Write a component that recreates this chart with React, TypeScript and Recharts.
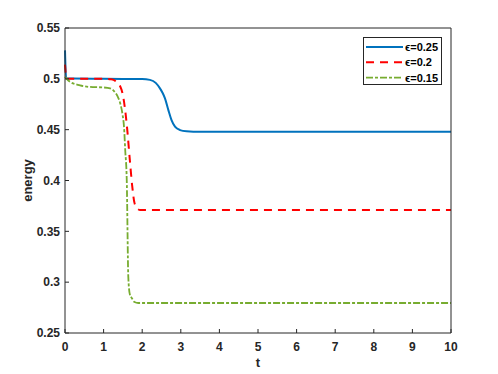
import React from 'react';
import { LineChart, Line, XAxis, YAxis, Legend } from 'recharts';

// ϵ = 0.25
const blueT = [0, 0.03, 1, 2, 2.2, 2.35, 2.46, 2.53, 2.59, 2.68, 2.76, 2.85, 2.98, 3.15, 3.5, 10];
const blueE = [0.528, 0.5005, 0.5, 0.4999, 0.499, 0.496, 0.4906, 0.486, 0.4808, 0.469, 0.4594, 0.4529, 0.4496, 0.4485, 0.448, 0.448];

// ϵ = 0.2
const redT = [0, 0.04, 1, 1.2, 1.32, 1.42, 1.51, 1.6, 1.68, 1.74, 1.8, 1.87, 1.95, 10];
const redE = [0.514, 0.5, 0.5, 0.4995, 0.4975, 0.4935, 0.482, 0.455, 0.42, 0.395, 0.378, 0.3725, 0.371, 0.371];

// ϵ = 0.15
const greenT = [0, 0.13, 0.39, 0.65, 1.0, 1.17, 1.27, 1.36, 1.43, 1.49, 1.53, 1.56, 1.6, 1.64, 1.68, 1.73, 1.8, 1.9, 10];
const greenE = [0.502, 0.497, 0.4936, 0.492, 0.4915, 0.4906, 0.488, 0.483, 0.476, 0.465, 0.452, 0.43, 0.4, 0.305, 0.288, 0.2844, 0.2805, 0.2795, 0.2795];

const seriesNames = ['ϵ=0.25', 'ϵ=0.2', 'ϵ=0.15'];
const seriesColors = ['#0072BD', '#FF0000', '#77AC30'];
const seriesDash = ['', '8 6', '7 2 3 2'];
const seriesWidth = [2, 2, 1.8];

const xTicks = [0, 1, 2, 3, 4, 5, 6, 7, 8, 9, 10];
const yTicks = [0.25, 0.3, 0.35, 0.4, 0.45, 0.5, 0.55];

const toRows = (ts: number[], es: number[]) => ts.map((t, i) => ({ t, e: es[i] }));
const seriesData = [toRows(blueT, blueE), toRows(redT, redE), toRows(greenT, greenE)];

const AXIS = '#262626';
const FONT = '"Liberation Sans", Arial, Helvetica, sans-serif';
const tickStyle = { fill: AXIS, fontSize: 12, fontWeight: 700, fontFamily: FONT };
const TL = 4; // inward tick length
const XM = 9; // bottom label gap
const YM = 5; // left label gap

const BottomTick = (p: any) => (
  <g>
    <line x1={p.x} x2={p.x} y1={p.y - XM} y2={p.y - XM - TL} stroke={AXIS} strokeWidth={1} />
    <text x={p.x} y={p.y} dy="0.71em" textAnchor="middle" {...tickStyle}>
      {p.payload.value}
    </text>
  </g>
);
const TopTick = (p: any) => (
  <line x1={p.x} x2={p.x} y1={p.y} y2={p.y + TL} stroke={AXIS} strokeWidth={1} />
);
const LeftTick = (p: any) => (
  <g>
    <line x1={p.x + YM} x2={p.x + YM + TL} y1={p.y} y2={p.y} stroke={AXIS} strokeWidth={1} />
    <text x={p.x} y={p.y} dy="0.355em" textAnchor="end" {...tickStyle}>
      {String(p.payload.value)}
    </text>
  </g>
);
const RightTick = (p: any) => (
  <line x1={p.x} x2={p.x - TL} y1={p.y} y2={p.y} stroke={AXIS} strokeWidth={1} />
);

const LegendBox = () => (
  <div
    style={{
      width: 79,
      height: 48,
      border: `1px solid ${AXIS}`,
      background: '#fff',
      boxSizing: 'border-box',
    }}
  >
    <svg width={77} height={46}>
      {seriesNames.map((n, i) => {
        const y = 9 + i * 15.3;
        return (
          <g key={n}>
            <line x1={2} x2={39} y1={y} y2={y} stroke={seriesColors[i]} strokeWidth={seriesWidth[i]} strokeDasharray={seriesDash[i]} />
            <text x={41} y={y + 4} fontSize={11} fontWeight={700} fontFamily={FONT} fill="#000">
              {n}
            </text>
          </g>
        );
      })}
    </svg>
  </div>
);

export default function App() {
  return (
    <div style={{ position: 'absolute', left: 0, top: 0, width: 498, height: 374, background: '#fff' }}>
      <LineChart width={498} height={374} margin={{ top: 27, right: 46, bottom: 6, left: 25 }}>
        <XAxis
          dataKey="t"
          type="number"
          domain={[0, 10]}
          ticks={xTicks}
          interval={0}
          height={35}
          stroke={AXIS}
          tickLine={false}
          tickSize={0}
          tickMargin={XM}
          tick={<BottomTick />}
          label={{ value: 't', position: 'insideBottom', offset: 1, style: { ...tickStyle, fontSize: 13, textAnchor: 'middle' } }}
        />
        <XAxis
          xAxisId="top"
          orientation="top"
          type="number"
          domain={[0, 10]}
          ticks={xTicks}
          interval={0}
          height={1}
          stroke={AXIS}
          tickLine={false}
          tickSize={0}
          tickMargin={0}
          tick={<TopTick />}
        />
        <YAxis
          type="number"
          domain={[0.25, 0.55]}
          ticks={yTicks}
          interval={0}
          width={40}
          stroke={AXIS}
          tickLine={false}
          tickSize={0}
          tickMargin={YM}
          tick={<LeftTick />}
          label={{ value: 'energy', angle: -90, position: 'insideLeft', offset: 2, style: { ...tickStyle, fontSize: 13, textAnchor: 'middle' } }}
        />
        <YAxis
          yAxisId="right"
          orientation="right"
          type="number"
          domain={[0.25, 0.55]}
          ticks={yTicks}
          interval={0}
          width={1}
          stroke={AXIS}
          tickLine={false}
          tickSize={0}
          tickMargin={0}
          tick={<RightTick />}
        />
        {seriesData.map((d, i) => (
          <Line
            key={seriesNames[i]}
            data={d}
            dataKey="e"
            name={seriesNames[i]}
            type="monotone"
            stroke={seriesColors[i]}
            strokeWidth={seriesWidth[i]}
            strokeDasharray={seriesDash[i] || undefined}
            dot={false}
            activeDot={false}
            isAnimationActive={false}
          />
        ))}
        <Legend
          layout="horizontal"
          verticalAlign="middle"
          align="center"
          content={() => <LegendBox />}
          wrapperStyle={{ position: 'absolute', left: 363, top: 37, width: 79, height: 48 }}
        />
      </LineChart>
    </div>
  );
}
